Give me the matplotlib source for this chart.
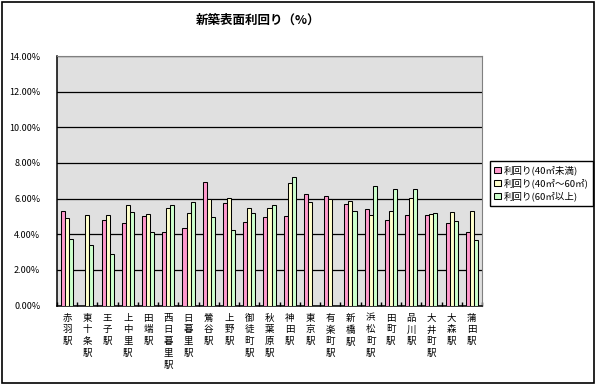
import numpy as np
import matplotlib
matplotlib.use('Agg')
import matplotlib.pyplot as plt
from matplotlib.patches import Rectangle
from matplotlib.ticker import FuncFormatter, MultipleLocator

plt.rcParams['font.family'] = ['Noto Sans CJK JP', 'DejaVu Sans']

# station names and yields (%)
stations = ['赤羽駅', '東十条駅', '王子駅', '上中里駅', '田端駅', '西日暮里駅', '日暮里駅',
            '鶯谷駅', '上野駅', '御徒町駅', '秋葉原駅', '神田駅', '東京駅', '有楽町駅',
            '新橋駅', '浜松町駅', '田町駅', '品川駅', '大井町駅', '大森駅', '蒲田駅']
small = [5.32, np.nan, 4.81, 4.64, 5.04, 4.13, 4.36, 6.91, 5.77, 4.70, 4.98,
         5.04, 6.23, 6.17, 5.72, 5.43, 4.81, 5.09, 5.09, 4.64, 4.13]
middle = [4.91, 5.09, 5.09, 5.66, 5.15, 5.49, 5.19, 6.00, 6.06, 5.49, 5.49,
          6.85, 5.83, 6.00, 5.89, 5.09, 5.32, 6.06, 5.15, 5.26, 5.32]
large = [3.72, 3.40, 2.89, 5.26, 4.13, 5.66, 5.83, 4.98, 4.25, 5.21, 5.66,
         7.19, np.nan, np.nan, 5.32, 6.68, 6.51, 6.51, 5.21, 4.75, 3.68]
labels = ['利回り(40㎡未満)', '利回り(40㎡～60㎡)', '利回り(60㎡以上)']
colors = ['#ff99cc', '#ffffcc', '#ccffcc']

fig = plt.figure(figsize=(5.99, 3.88), dpi=100)
ax = fig.add_axes([57 / 599, 1 - 305.5 / 388, 425 / 599, 249.5 / 388])
ax.set_facecolor('#e0e0e0')

x = np.arange(len(stations))
w = 0.2
for i, (vals, lab, col) in enumerate(zip([small, middle, large], labels, colors)):
    ax.bar(x + (i - 1) * w, vals, w, color=col, edgecolor='black', linewidth=0.75,
           label=lab, zorder=3)

ax.set_xlim(-0.5, len(stations) - 0.5)
ax.set_ylim(0, 14)
ax.yaxis.set_major_locator(MultipleLocator(2))
ax.yaxis.set_major_formatter(FuncFormatter(lambda v, p: '%.2f%%' % v))
ax.grid(axis='y', color='black', linewidth=0.9, zorder=1)
ax.set_xticks(np.arange(-0.5, len(stations), 1))
ax.set_xticklabels([])
ax.tick_params(axis='x', length=3, width=1, direction='in')
ax.tick_params(axis='y', length=0, labelsize=6.5, pad=12)
for s in ['top', 'right']:
    ax.spines[s].set_color('#808080')
    ax.spines[s].set_linewidth(0.8)
for s in ['left', 'bottom']:
    ax.spines[s].set_linewidth(1.1)

# vertical station labels
for xi, name in zip(x, stations):
    ax.text(xi, -0.45, '\n'.join(name), ha='center', va='top', fontsize=6.8,
            linespacing=1.4)

fig.text(258 / 599, 1 - 20 / 388, '新築表面利回り（%）', ha='center', va='center',
         fontsize=9, fontweight='bold')

fig.legend(loc='upper left', bbox_to_anchor=(490 / 599, 1 - 161 / 388), fontsize=6.8,
           frameon=True, fancybox=False, edgecolor='black', framealpha=1,
           handlelength=0.7, handleheight=0.7, handletextpad=0.3,
           borderpad=0.45, labelspacing=0.35, borderaxespad=0)

fig.patches.append(Rectangle((2 / 599, 5 / 388), 592 / 599, 381 / 388, fill=False,
                             edgecolor='black', linewidth=1.2, transform=fig.transFigure))

fig.savefig('out.png', dpi=100)
